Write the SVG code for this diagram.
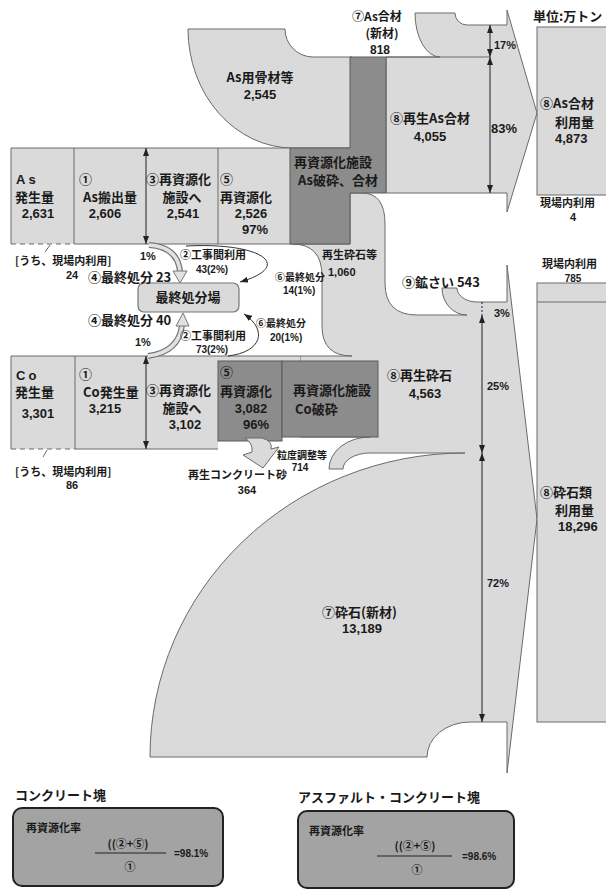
<svg xmlns="http://www.w3.org/2000/svg" width="606" height="892" viewBox="0 0 606 892">
<defs>
<style>
text{font-family:"Noto Sans CJK JP","Noto Sans",sans-serif;font-weight:700;fill:#1a1a1a;font-size:13px}
.n{font-family:"Liberation Sans","Noto Sans",sans-serif}
.s{font-size:11px}
.xs{font-size:10px}
.t{font-size:12px}
.m{text-anchor:middle}
.lt{fill:#dadada;stroke:#6a6a6a;stroke-width:1}
.ltf{fill:#dadada;stroke:none}
.dk{fill:#8c8c8c;stroke:#5a5a5a;stroke-width:1}
.ln{fill:none;stroke:#6a6a6a;stroke-width:1}
.dsh{fill:none;stroke:#6a6a6a;stroke-width:1.2;stroke-dasharray:5,4}
.dim{fill:none;stroke:#222;stroke-width:1;marker-start:url(#ah);marker-end:url(#ah)}
.loop{fill:none;stroke:#333;stroke-width:1;marker-end:url(#ah)}
.bo{fill:none;stroke:#777;stroke-width:6}
.bi{fill:none;stroke:#e2e2e2;stroke-width:3.5}
.fb{fill:#a3a3a3;stroke:#222;stroke-width:2}
</style>
<marker id="ah" viewBox="0 0 8 6" refX="8" refY="3" markerWidth="8" markerHeight="6" markerUnits="userSpaceOnUse" orient="auto-start-reverse"><path d="M0,0 L8,3 L0,6 Z" fill="#222"/></marker>
</defs>
<rect width="606" height="892" fill="#fff"/>

<g id="crushed-flow">
<path class="lt" d="M350,193 L362,193 Q385,193 385,224 L385,283 Q385,315 417,315 L467,315 A25,27 0 0 1 442,288 L457,288 A20,14 0 0 0 477,302 L507,302 L507,265 L537,519 L507,773 L507,722 L470,722 A43,35 0 0 0 427,757 L150,757 A315,304 0 0 1 465,453 L370,453 A27,16 0 0 0 343,469 L329,469 A41,32 0 0 1 370,437 L300,437 L300,356 L352,356 Q322,356 322,326 L322,276 Q322,244 292,244 L350,244 Z"/>
</g>

<g id="as-aggregate">
<path class="lt" d="M188,29 L285,29 A28,28 0 0 0 313,57 L352,57 L352,148 L293,148 A105,119 0 0 1 188,29 Z"/>
<text class="m" x="260" y="82">As用骨材等</text>
<text class="n m" x="260" y="99">2,545</text>
</g>

<g id="as-mix-flow">
<path class="lt" d="M386,57 L440,57 A25,44 0 0 1 415,13 L455,13 A12,12 0 0 0 467,25 L507,25 L507,10 L537,113 L507,212 L507,193 L386,193 Z"/>
<line class="ln" x1="386" y1="57" x2="490" y2="57"/>
<text class="t" x="352" y="21">⑦As合材</text>
<text class="t m" x="382" y="38">(新材)</text>
<text class="t n m" x="380" y="54">818</text>
<text x="390" y="123">⑧再生As合材</text>
<text class="n m" x="430" y="141">4,055</text>
<text class="s n" x="494" y="49">17%</text>
<text class="n" x="491" y="133">83%</text>
</g>

<g id="as-row">
<rect class="ltf" x="11" y="148" width="279" height="96"/>
<path class="ln" d="M74,244 L292,244 M11,244 L11,148 L290,148 M74,148 L74,244 M218,148 L218,244"/>
<line class="dsh" x1="11" y1="244" x2="74" y2="244"/>
<line class="ln" x1="50" y1="245" x2="45" y2="252"/>
<text class="n" x="16" y="184" letter-spacing="3">As</text>
<text x="15" y="202">発生量</text>
<text class="n m" x="38" y="218">2,631</text>
<text x="79" y="184">①</text>
<text x="83" y="202">As搬出量</text>
<text class="n m" x="105" y="218">2,606</text>
<text x="146" y="184">③再資源化</text>
<text class="m" x="182" y="202">施設へ</text>
<text class="n m" x="183" y="218">2,541</text>
<text x="220" y="184">⑤</text>
<text x="220" y="202">再資源化</text>
<text class="n m" x="251" y="218">2,526</text>
<text class="n m" x="255" y="234">97%</text>
</g>

<g id="as-facility">
<path class="dk" d="M290,148 L350,148 L350,57 L386,57 L386,193 L350,193 L350,244 L290,244 Z"/>
<text class="m" x="333" y="167">再資源化施設</text>
<text class="m" x="338" y="185">As破砕、合材</text>
</g>

<g id="co-row">
<rect class="ltf" x="11" y="356" width="207" height="93"/>
<rect class="ltf" x="218" y="356" width="82" height="6"/>
<path class="ln" d="M75,449 L218,449 M11,449 L11,356 L300,356 M75,356 L75,449"/>
<line class="dsh" x1="11" y1="449" x2="75" y2="449"/>
<line class="ln" x1="47" y1="450" x2="43" y2="457"/>
<text class="n" x="16" y="380" letter-spacing="3">Co</text>
<text x="15" y="397">発生量</text>
<text class="n m" x="38" y="418">3,301</text>
<text x="79" y="379">①</text>
<text x="83" y="397">Co発生量</text>
<text class="n m" x="105" y="413">3,215</text>
<text x="146" y="395">③再資源化</text>
<text class="m" x="182" y="413">施設へ</text>
<text class="n m" x="185" y="429">3,102</text>
</g>

<g id="co-facility">
<rect class="dk" x="218" y="361" width="64" height="80"/>
<rect class="dk" x="282" y="361" width="96" height="76"/>
<text x="220" y="377">⑤</text>
<text x="220" y="396">再資源化</text>
<text class="n m" x="251" y="413">3,082</text>
<text class="n m" x="256" y="429">96%</text>
<text class="m" x="332" y="395">再資源化施設</text>
<text x="295" y="414">Co破砕</text>
</g>

<g id="sand-arrow">
<path class="lt" d="M245,438 L262,438 Q273,441 271,449 L279,447 L263,468 L243,455 L252,452 Q253,443 245,438 Z"/>
</g>

<g id="landfill">
<rect x="138" y="283" width="101" height="29" rx="6" fill="#dadada" stroke="#777" stroke-width="1.2"/>
<text class="m" x="188" y="302">最終処分場</text>
</g>

<g id="connectors">
<path class="bo" d="M149,245 Q178,247 180,272"/>
<path class="bi" d="M149,245 Q178,247 180,272"/>
<polygon points="173,271 187,271 180,283" fill="#e2e2e2" stroke="#777"/>
<path class="bo" d="M148,356 Q179,352 182,325"/>
<path class="bi" d="M148,356 Q179,352 182,325"/>
<polygon points="176,326 189,326 183,313" fill="#e2e2e2" stroke="#777"/>
<path class="loop" d="M186,246 C262,242 295,266 240,282"/>
<path class="loop" d="M228,356 C262,352 268,330 244,314"/>
<line class="dim" x1="146" y1="148" x2="146" y2="244"/>
<line class="dim" x1="146" y1="356" x2="146" y2="449"/>
<line class="dim" x1="490" y1="25" x2="490" y2="57"/>
<line class="dim" x1="490" y1="57" x2="490" y2="193"/>
<line x1="482" y1="302" x2="482" y2="315" stroke="#222" stroke-dasharray="2,2"/>
<line class="dim" x1="482" y1="315" x2="482" y2="453"/>
<line class="dim" x1="482" y1="453" x2="482" y2="722"/>
</g>

<g id="labels-mid">
<text class="s" x="15" y="265">[うち、現場内利用]</text>
<text class="s n m" x="72" y="279">24</text>
<text class="s n" x="140" y="260">1%</text>
<text x="88" y="282">④最終処分 23</text>
<text class="s" x="180" y="259">②工事間利用</text>
<text class="xs n m" x="212" y="273">43(2%)</text>
<text class="xs" x="275" y="281">⑥最終処分</text>
<text class="xs n" x="283" y="294">14(1%)</text>
<text class="s" x="322" y="259">再生砕石等</text>
<text class="s n" x="328" y="276">1,060</text>
<text x="88" y="325">④最終処分 40</text>
<text class="s n" x="135" y="346">1%</text>
<text class="s" x="180" y="340">②工事間利用</text>
<text class="xs n m" x="212" y="353">73(2%)</text>
<text class="xs" x="256" y="327">⑥最終処分</text>
<text class="xs n" x="270" y="341">20(1%)</text>
<text class="s" x="15" y="476">[うち、現場内利用]</text>
<text class="s n m" x="72" y="489">86</text>
<text class="xs" x="277" y="459">粒度調整等</text>
<text class="xs n m" x="300" y="471">714</text>
<text class="s" x="188" y="479">再生コンクリート砂</text>
<text class="s n m" x="247" y="494">364</text>
<text x="402" y="287">⑨鉱さい 543</text>
<text class="s n" x="494" y="317">3%</text>
<text x="387" y="380">⑧再生砕石</text>
<text class="n m" x="425" y="398">4,563</text>
<text class="s n" x="487" y="390">25%</text>
<text class="s n" x="487" y="587">72%</text>
<text x="322" y="617">⑦砕石(新材)</text>
<text class="n m" x="362" y="633">13,189</text>
</g>

<g id="as-use">
<rect class="lt" x="537" y="27" width="75" height="168"/>
<text x="533" y="21">単位:万トン</text>
<text x="540" y="108">⑧As合材</text>
<text x="555" y="127">利用量</text>
<text class="n" x="555" y="143">4,873</text>
<text class="s" x="540" y="207">現場内利用</text>
<text class="s n m" x="573" y="221">4</text>
</g>

<g id="crushed-use">
<rect class="lt" x="537" y="283" width="75" height="439"/>
<line class="ln" x1="537" y1="302" x2="612" y2="302"/>
<text class="s" x="542" y="268">現場内利用</text>
<text class="xs n m" x="573" y="282">785</text>
<text x="540" y="497">⑧砕石類</text>
<text x="555" y="515">利用量</text>
<text class="n" x="558" y="531">18,296</text>
</g>

<g id="rate-co">
<text x="15" y="800">コンクリート塊</text>
<rect class="fb" x="13" y="808" width="210" height="78" rx="9"/>
<text class="s" x="26" y="832">再資源化率</text>
<text class="s m" x="128" y="848">((②+⑤)</text>
<line x1="95" y1="853" x2="166" y2="853" stroke="#222" stroke-width="1.2"/>
<text class="s m" x="130" y="871">①</text>
<text class="xs n" x="174" y="857">=98.1%</text>
</g>

<g id="rate-asco">
<text x="298" y="802">アスファルト・コンクリート塊</text>
<rect class="fb" x="298" y="811" width="216" height="77" rx="9"/>
<text class="s" x="309" y="835">再資源化率</text>
<text class="s m" x="415" y="850">((②+⑤)</text>
<line x1="377" y1="856" x2="452" y2="856" stroke="#222" stroke-width="1.2"/>
<text class="s m" x="417" y="874">①</text>
<text class="xs n" x="462" y="860">=98.6%</text>
</g>
</svg>
